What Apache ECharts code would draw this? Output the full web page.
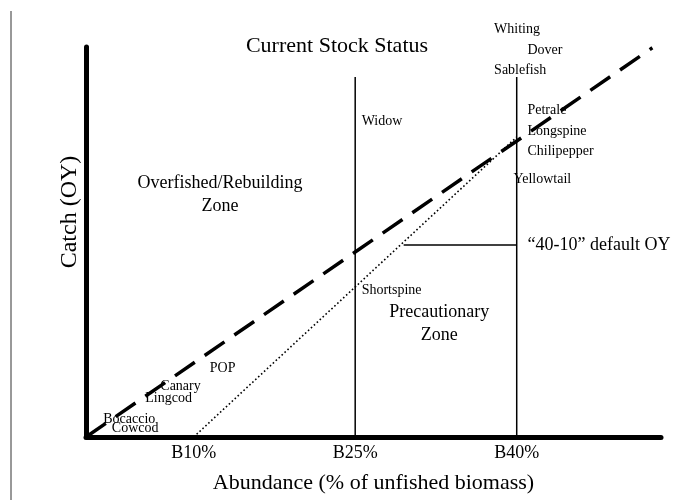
<!DOCTYPE html>
<html>
<head>
<meta charset="utf-8">
<title>Current Stock Status</title>
<script src="https://cdn.jsdelivr.net/npm/echarts@6/dist/echarts.min.js"></script>
<style>
  html, body { margin: 0; padding: 0; background: #fff; }
  #myChart { width: 674px; height: 500px; }
</style>
</head>
<body>
<div id="myChart"></div>
<script>
// tick labels on the abundance axis (% of unfished biomass)
var tickValues = [10, 25, 40];
// dashed line: catch proportional to abundance
var dashedLine = [[0, 0], [52.6, 51.9]];
// dotted "40-10" rule: zero at B10%, joins the dashed line at B40%
var ruleLine = [[10, 0], [40, 40]];
// vertical reference lines at B25% and B40%
var refX = [25, 40];
var refTop = 48;
// leader for the "40-10" label
var leaderLine = [[29.5, 25.6], [40, 25.6]];

// species labels (abundance, catch)
var speciesNames = ['Whiting', 'Dover', 'Sablefish', 'Widow', 'Petrale', 'Longspine', 'Chilipepper',
  'Yellowtail', 'Shortspine', 'POP', 'Canary', 'Lingcod', 'Bocaccio', 'Cowcod'];
var speciesAbundance = [37.9, 41.0, 37.9, 25.6, 41.0, 41.0, 41.0, 39.7, 25.6, 11.5, 6.9, 5.5, 1.6, 2.4];
var speciesCatch = [54.3, 51.5, 48.9, 42.1, 43.6, 40.8, 38.1, 34.3, 19.6, 9.2, 6.7, 5.2, 2.4, 1.1];

// zone labels
var zoneNames = ['Overfished/Rebuilding\nZone', 'Precautionary\nZone'];
var zoneAbundance = [12.45, 32.8];
var zoneCatch = [32.3, 15.1];

var serif = '"Liberation Serif", "DejaVu Serif", serif';

var myChart = echarts.init(document.getElementById('myChart'));

var series = [];
// reference lines
refX.forEach(function (x) {
  series.push({
    type: 'line',
    data: [[x, 0], [x, refTop]],
    symbol: 'none',
    lineStyle: { color: '#000', width: 1.5 },
    silent: true
  });
});
series.push({
  type: 'line',
  data: ruleLine,
  symbol: 'none',
  lineStyle: { color: '#000', width: 1.6, type: [1.6, 2.4] },
  silent: true
});
series.push({
  type: 'line',
  data: leaderLine,
  symbol: 'none',
  lineStyle: { color: '#000', width: 1.5 },
  silent: true
});
series.push({
  type: 'line',
  data: dashedLine,
  symbol: 'none',
  lineStyle: { color: '#000', width: 3.5, type: [24, 12] },
  silent: true
});
// species names
series.push({
  type: 'scatter',
  symbolSize: 0,
  clip: false,
  itemStyle: { opacity: 1 },
  data: speciesNames.map(function (n, i) {
    return { name: n, value: [speciesAbundance[i], speciesCatch[i]] };
  }),
  label: {
    show: true,
    position: 'right',
    distance: 0,
    formatter: '{b}',
    color: '#000',
    fontFamily: serif,
    fontSize: 14
  },
  silent: true
});
// zone names
series.push({
  type: 'scatter',
  symbolSize: 0,
  itemStyle: { opacity: 1 },
  data: zoneNames.map(function (n, i) {
    return { name: n, value: [zoneAbundance[i], zoneCatch[i]] };
  }),
  label: {
    show: true,
    position: 'inside',
    formatter: '{b}',
    color: '#000',
    fontFamily: serif,
    fontSize: 18,
    lineHeight: 23
  },
  silent: true
});
// "40-10" label
series.push({
  type: 'scatter',
  symbolSize: 0,
  clip: false,
  itemStyle: { opacity: 1 },
  data: [{ name: '\u201c40-10\u201d default OY', value: [41.0, 25.6] }],
  label: {
    show: true,
    position: 'right',
    distance: 0,
    formatter: '{b}',
    color: '#000',
    fontFamily: serif,
    fontSize: 18
  },
  silent: true
});

var option = {
  animation: false,
  backgroundColor: '#fff',
  title: {
    text: 'Current Stock Status',
    left: 'center',
    top: 30,
    textStyle: { color: '#000', fontFamily: serif, fontSize: 22, fontWeight: 'normal' }
  },
  grid: { left: 86, right: 13, top: 47, bottom: 63 },
  xAxis: {
    type: 'value',
    min: 0,
    max: 53.4,
    name: 'Abundance (% of unfished biomass)',
    nameLocation: 'middle',
    nameGap: 35,
    nameTextStyle: { color: '#000', fontFamily: serif, fontSize: 22 },
    axisLine: { lineStyle: { color: '#000', width: 5 } },
    axisTick: { show: false },
    splitLine: { show: false },
    axisLabel: {
      customValues: tickValues,
      formatter: 'B{value}%',
      color: '#000',
      fontFamily: serif,
      fontSize: 18,
      margin: 7
    }
  },
  yAxis: {
    type: 'value',
    min: 0,
    max: 52,
    axisLine: { show: true, lineStyle: { color: '#000', width: 5 } },
    axisTick: { show: false },
    axisLabel: { show: false },
    splitLine: { show: false }
  },
  graphic: [
    // y axis title
    {
      type: 'text',
      x: 70,
      y: 212,
      rotation: Math.PI / 2,
      style: {
        text: 'Catch (OY)',
        fill: '#000',
        font: '24px ' + serif,
        align: 'center',
        verticalAlign: 'middle'
      }
    },
    // page edge line from the scan
    {
      type: 'line',
      shape: { x1: 11, y1: 11, x2: 11, y2: 500 },
      style: { stroke: '#333', lineWidth: 1 }
    }
  ],
  series: series
};

myChart.setOption(option);
window.addEventListener('resize', myChart.resize);
</script>
</body>
</html>
